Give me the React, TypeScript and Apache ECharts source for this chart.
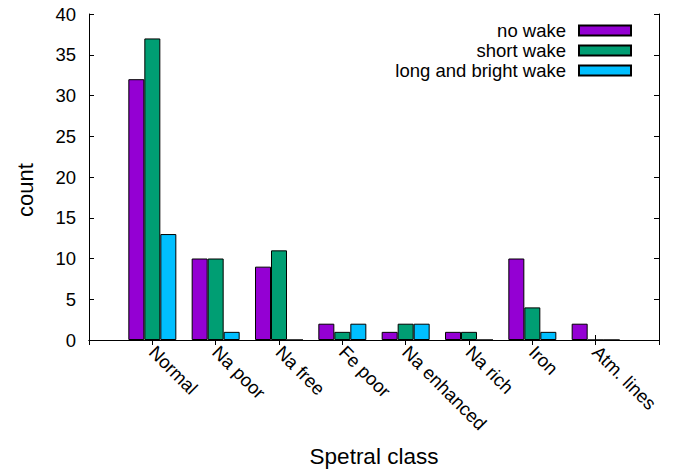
import React, { useEffect, useRef } from "react";
import * as echarts from "echarts";

// Spectral classes, padded with an empty slot on each side of the axis
const classes = ["Normal", "Na poor", "Na free", "Fe poor", "Na enhanced", "Na rich", "Iron", "Atm. lines"];
const axisSlots = ["", ...classes, ""];

const noWake = [32, 10, 9, 2, 1, 1, 10, 2];
const shortWake = [37, 10, 11, 1, 2, 1, 4, 0];
const longBrightWake = [13, 1, 0, 2, 2, 0, 1, 0];

const seriesNames = ["no wake", "short wake", "long and bright wake"];
const seriesColors = ["#9400d3", "#009e73", "#00bfff"];

const FONT = "'Liberation Sans', Arial, Helvetica, sans-serif";

const pad = (vals: number[]) => [null, ...vals, null];

export default function App() {
  const ref = useRef<HTMLDivElement>(null);

  useEffect(() => {
    if (!ref.current) return;
    const chart = echarts.init(ref.current, undefined, { renderer: "svg" });
    const data = [noWake, shortWake, longBrightWake];

    const tickStyle = { show: true, inside: true, length: 5, lineStyle: { color: "#000", width: 1 } };
    const lineStyle = { show: true, lineStyle: { color: "#000", width: 1 } };

    chart.setOption({
      animation: false,
      backgroundColor: "#fff",
      textStyle: { fontFamily: FONT },
      grid: { left: 89, right: 19, top: 14, bottom: 132, containLabel: false },
      legend: {
        orient: "vertical",
        align: "right",
        right: 41,
        top: 16,
        itemWidth: 52,
        itemHeight: 10,
        itemGap: 1,
        icon: "rect",
        selectedMode: false,
        textStyle: { fontSize: 18.5, color: "#000", fontFamily: FONT, lineHeight: 18, padding: [0, 8, 0, 0] },
        data: seriesNames,
      },
      xAxis: [
        {
          type: "category",
          data: axisSlots,
          boundaryGap: false,
          position: "bottom",
          axisLine: lineStyle,
          axisTick: { ...tickStyle, interval: 0 },
          axisLabel: {
            interval: 0,
            rotate: -45,
            margin: 9,
            fontSize: 18.5,
            color: "#000",
            fontFamily: FONT,
          },
          name: "Spetral class",
          nameLocation: "middle",
          nameGap: 105,
          nameTextStyle: { fontSize: 22.5, color: "#000", fontFamily: FONT },
          splitLine: { show: false },
        },
        {
          type: "category",
          data: axisSlots,
          boundaryGap: false,
          position: "top",
          axisLine: lineStyle,
          axisTick: { ...tickStyle, interval: 0 },
          axisLabel: { show: false },
          splitLine: { show: false },
        },
      ],
      yAxis: [
        {
          type: "value",
          min: 0,
          max: 40,
          interval: 5,
          position: "left",
          axisLine: lineStyle,
          axisTick: tickStyle,
          axisLabel: { fontSize: 18.5, color: "#000", margin: 13, fontFamily: FONT },
          splitLine: { show: false },
        },
        {
          type: "value",
          min: 0,
          max: 40,
          interval: 5,
          position: "right",
          axisLine: lineStyle,
          axisTick: tickStyle,
          axisLabel: { show: false },
          splitLine: { show: false },
        },
      ],
      graphic: [
        {
          type: "text",
          x: 25,
          y: 190,
          rotation: Math.PI / 2,
          style: {
            text: "count",
            fontSize: 22,
            fontFamily: FONT,
            fill: "#000",
            align: "center",
            verticalAlign: "middle",
          },
        },
      ],
      series: data.map((vals, i) => ({
        name: seriesNames[i],
        type: "bar",
        xAxisIndex: 0,
        yAxisIndex: 0,
        data: pad(vals),
        barWidth: 16,
        barGap: "0%",
        itemStyle: { color: seriesColors[i], borderColor: "#000", borderWidth: 1 },
      })),
    });

    return () => chart.dispose();
  }, []);

  return <div ref={ref} style={{ width: 678, height: 473, position: "absolute", left: 0, top: 0 }} />;
}
